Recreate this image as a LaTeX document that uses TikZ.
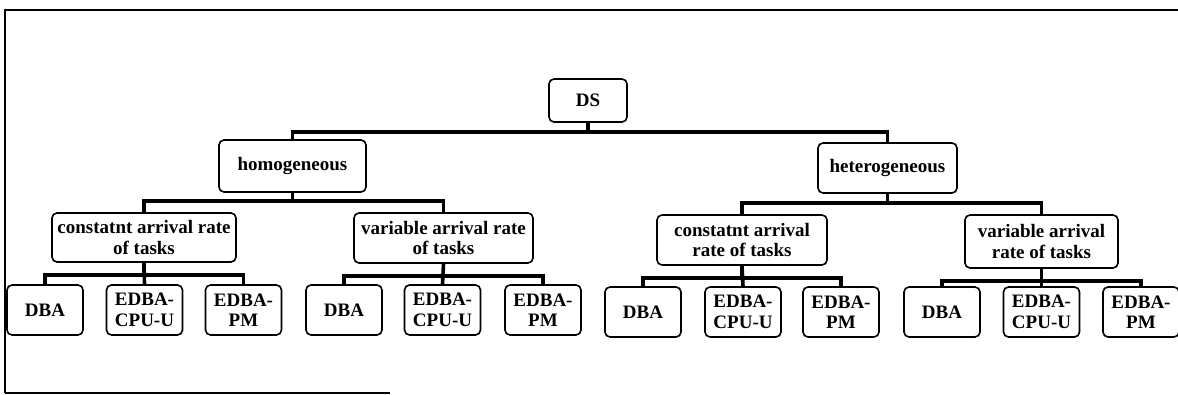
\documentclass[tikz,border=0pt]{standalone}
\usepackage{fontspec}
\setmainfont{Liberation Serif}
\begin{document}
\begin{tikzpicture}[x=1pt,y=-1pt,
  box/.style={draw, line width=1.6pt, rounded corners=5pt, align=center,
    inner sep=0pt, font=\bfseries\fontsize{19}{20.5}\selectfont},
  conn/.style={line width=3.6pt, line join=miter},
  frameline/.style={line width=1.6pt}]
\useasboundingbox (0,0) rectangle (1178,395);

% outer frame (open on the right and lower right)
\draw[frameline] (5,393) -- (5,10) -- (1178,10);
\draw[frameline] (5,393) -- (390,393);

% root
\node[box, minimum width=78pt, minimum height=43pt] (ds) at (588,100.5) {DS};

% platform types
\node[box, minimum width=147pt, minimum height=52pt] (homo) at (292.5,166) {homogeneous};
\node[box, minimum width=139pt, minimum height=50pt] (hetero) at (887.5,168) {heterogeneous};

% arrival-rate classes
\node[box, minimum width=184pt, minimum height=49pt] (c1) at (144,237.5) {constatnt arrival rate\\of tasks};
\node[box, minimum width=179pt, minimum height=50pt] (v1) at (443.5,238) {variable arrival rate\\of tasks};
\node[box, minimum width=170pt, minimum height=50pt] (c2) at (742,240) {constatnt arrival\\rate of tasks};
\node[box, minimum width=153pt, minimum height=53pt] (v2) at (1041.5,241.5) {variable arrival\\rate of tasks};

% algorithms
\tikzset{leaf/.style={box, minimum width=76pt, minimum height=50pt}}
\node[leaf] (d1) at (45,310) {DBA};
\node[leaf] (u1) at (144.5,310) {EDBA-\\CPU-U};
\node[leaf] (p1) at (243.5,310) {EDBA-\\PM};
\node[leaf] (d2) at (344,310) {DBA};
\node[leaf] (u2) at (442.5,310) {EDBA-\\CPU-U};
\node[leaf] (p2) at (543,310) {EDBA-\\PM};
\node[leaf] (d3) at (643,312) {DBA};
\node[leaf] (u3) at (743,312) {EDBA-\\CPU-U};
\node[leaf] (p3) at (841,312) {EDBA-\\PM};
\node[leaf] (d4) at (942,312) {DBA};
\node[leaf] (u4) at (1041.5,312) {EDBA-\\CPU-U};
\node[leaf] (p4) at (1141,312) {EDBA-\\PM};

% tree connectors
\draw[conn] (ds.south) -- ++(0,9) -| (homo.north);
\draw[conn] (ds.south) -- ++(0,9) -| (hetero.north);

\draw[conn] (homo.south) -- ++(0,8) -| (c1.north);
\draw[conn] (homo.south) -- ++(0,8) -| (v1.north);
\draw[conn] (hetero.south) -- ++(0,9) -| (c2.north);
\draw[conn] (hetero.south) -- ++(0,9) -| (v2.north);

\foreach \p/\a/\b/\c in {c1/d1/u1/p1, v1/d2/u2/p2, c2/d3/u3/p3, v2/d4/u4/p4}{
  \draw[conn] (\p.south) -- ++(0,12) -| (\a.north);
  \draw[conn] (\p.south) -- (\b.north);
  \draw[conn] (\p.south) -- ++(0,12) -| (\c.north);
}
\end{tikzpicture}
\end{document}
